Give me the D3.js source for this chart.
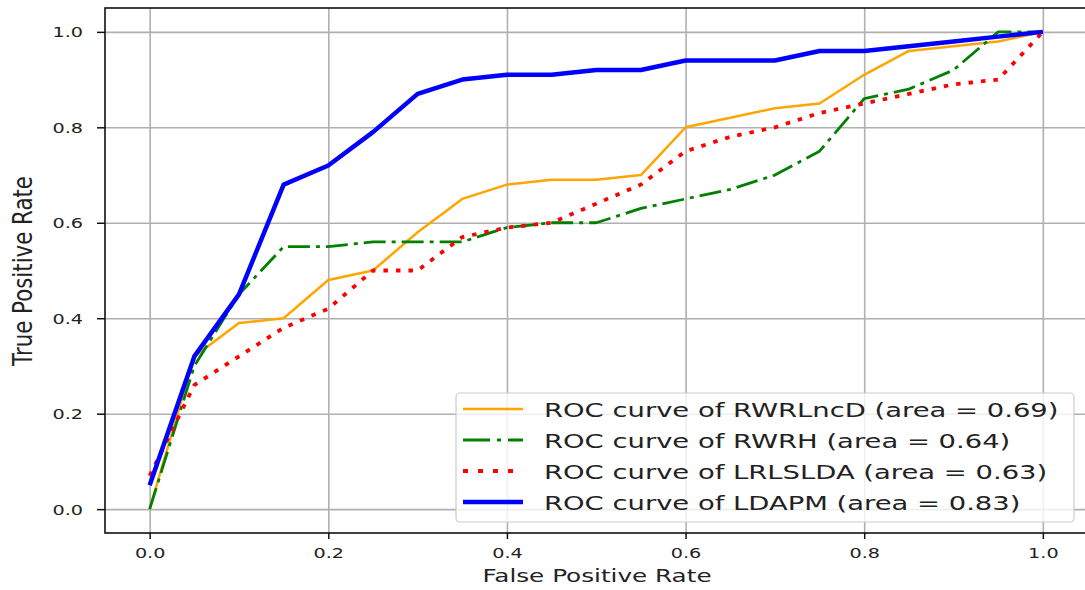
<!DOCTYPE html>
<html>
<head>
<meta charset="utf-8">
<script src="https://cdn.jsdelivr.net/npm/d3@7"></script>
<style>
  body { margin: 0; background: #fff; }
  svg { display: block; font-family: "DejaVu Sans", sans-serif; }
</style>
</head>
<body>
<svg id="chart" width="1085" height="590"></svg>
<script>
// values
const fpr = [0.00, 0.05, 0.10, 0.15, 0.20, 0.25, 0.30, 0.35, 0.40, 0.45, 0.50,
             0.55, 0.60, 0.65, 0.70, 0.75, 0.80, 0.85, 0.90, 0.95, 1.00];
const tprRWRLncD = [0.00, 0.32, 0.39, 0.40, 0.48, 0.50, 0.58, 0.65, 0.68, 0.69, 0.69,
                    0.70, 0.80, 0.82, 0.84, 0.85, 0.91, 0.96, 0.97, 0.98, 1.00];
const tprRWRH    = [0.00, 0.30, 0.45, 0.55, 0.55, 0.56, 0.56, 0.56, 0.59, 0.60, 0.60,
                    0.63, 0.65, 0.67, 0.70, 0.75, 0.86, 0.88, 0.92, 1.00, 1.00];
const tprLRLSLDA = [0.07, 0.26, 0.32, 0.38, 0.42, 0.50, 0.50, 0.57, 0.59, 0.60, 0.64,
                    0.68, 0.75, 0.78, 0.80, 0.83, 0.85, 0.87, 0.89, 0.90, 1.00];
const tprLDAPM   = [0.05, 0.32, 0.45, 0.68, 0.72, 0.79, 0.87, 0.90, 0.91, 0.91, 0.92,
                    0.92, 0.94, 0.94, 0.94, 0.96, 0.96, 0.97, 0.98, 0.99, 1.00];
const methods = ['RWRLncD', 'RWRH', 'LRLSLDA', 'LDAPM'];
const areas = ['0.69', '0.64', '0.63', '0.83'];
const tickValues = [0.0, 0.2, 0.4, 0.6, 0.8, 1.0];

// styles
const styles = [
  { color: 'orange', width: 2.5, dash: null },
  { color: 'green',  width: 2.8, dash: '22,6,4,6' },
  { color: 'red',    width: 3.8, dash: '4.5,8' },
  { color: 'blue',   width: 4.5, dash: null }
];
const series = [tprRWRLncD, tprRWRH, tprLRLSLDA, tprLDAPM];

const k = 1.37; // the picture is stretched sideways, text too

// widen text in place through textLength
const stretch = sel => {
  sel.each(function() {
    const len = this.getComputedTextLength();
    d3.select(this)
      .attr('textLength', len * k)
      .attr('lengthAdjust', 'spacingAndGlyphs');
  });
};

const svg = d3.select('#chart');
const width = +svg.attr('width');
const height = +svg.attr('height');
const margin = { top: 8, right: -2.5, bottom: 57, left: 105 };
const innerWidth = width - margin.left - margin.right;
const innerHeight = height - margin.top - margin.bottom;

const xScale = d3.scaleLinear()
  .domain([-0.05, 1.05])
  .range([margin.left, width - margin.right]);
const yScale = d3.scaleLinear()
  .domain([-0.05, 1.05])
  .range([height - margin.bottom, margin.top]);

// grid
const gridConfig = g => {
  g.selectAll('.domain').remove();
  g.selectAll('text').remove();
  g.selectAll('line')
    .attr('stroke', '#b0b0b0')
    .attr('stroke-width', 1.6);
};
svg.append('g')
  .attr('transform', `translate(0, ${height - margin.bottom})`)
  .call(d3.axisBottom(xScale).tickValues(tickValues).tickSize(-innerHeight))
  .call(gridConfig);
svg.append('g')
  .attr('transform', `translate(${margin.left}, 0)`)
  .call(d3.axisLeft(yScale).tickValues(tickValues).tickSize(-innerWidth))
  .call(gridConfig);

// curves
const line = d3.line()
  .x((d, i) => xScale(fpr[i]))
  .y(d => yScale(d));

svg.append('g').selectAll('path')
  .data(series)
  .enter().append('path')
    .attr('d', d => line(d))
    .attr('fill', 'none')
    .attr('stroke', (d, i) => styles[i].color)
    .attr('stroke-width', (d, i) => styles[i].width)
    .attr('stroke-dasharray', (d, i) => styles[i].dash)
    .attr('stroke-linejoin', 'round')
    .attr('stroke-linecap', 'butt');

// frame
svg.append('rect')
  .attr('x', margin.left)
  .attr('y', margin.top)
  .attr('width', innerWidth)
  .attr('height', innerHeight)
  .attr('fill', 'none')
  .attr('stroke', '#111')
  .attr('stroke-width', 1.6);

// axes
const xAxisG = svg.append('g')
  .attr('transform', `translate(0, ${height - margin.bottom})`)
  .call(d3.axisBottom(xScale).tickValues(tickValues).tickSize(6).tickFormat(d3.format('.1f')));
xAxisG.selectAll('.domain').remove();
xAxisG.selectAll('line').attr('stroke', '#111').attr('stroke-width', 1.5);
xAxisG.selectAll('text')
  .attr('y', 25)
  .attr('dy', 0)
  .attr('font-size', 14)
  .attr('font-family', 'DejaVu Sans')
  .attr('fill', '#222')
  .call(stretch);

const yAxisG = svg.append('g')
  .attr('transform', `translate(${margin.left}, 0)`)
  .call(d3.axisLeft(yScale).tickValues(tickValues).tickSize(8).tickFormat(d3.format('.1f')));
yAxisG.selectAll('.domain').remove();
yAxisG.selectAll('line').attr('stroke', '#111').attr('stroke-width', 1.5);
yAxisG.selectAll('text')
  .attr('x', -22)
  .attr('dy', '0.36em')
  .attr('font-size', 14)
  .attr('font-family', 'DejaVu Sans')
  .attr('fill', '#222')
  .call(stretch);

svg.append('text')
  .attr('x', 597)
  .attr('y', 582)
  .attr('text-anchor', 'middle')
  .attr('font-size', 18)
  .attr('fill', '#222')
  .text('False Positive Rate')
  .call(stretch);

svg.append('text')
  .attr('text-anchor', 'middle')
  .attr('font-size', 26)
  .attr('fill', '#222')
  .attr('transform', 'translate(32, 271) rotate(-90)')
  .attr('textLength', 190)
  .attr('lengthAdjust', 'spacingAndGlyphs')
  .text('True Positive Rate');

// legend
const legend = svg.append('g');
legend.append('rect')
  .attr('x', 456)
  .attr('y', 393)
  .attr('width', 618)
  .attr('height', 129)
  .attr('rx', 4)
  .attr('fill', 'white')
  .attr('fill-opacity', 0.8)
  .attr('stroke', '#cccccc')
  .attr('stroke-width', 1.2);

const rowY = d3.scaleLinear().domain([0, 3]).range([409, 502]);
const items = legend.selectAll('.item')
  .data(methods)
  .enter().append('g')
    .attr('class', 'item')
    .attr('transform', (d, i) => `translate(0, ${rowY(i)})`);
items.append('line')
  .attr('x1', 463)
  .attr('x2', 523)
  .attr('stroke', (d, i) => styles[i].color)
  .attr('stroke-width', (d, i) => styles[i].width)
  .attr('stroke-dasharray', (d, i) => styles[i].dash === null ? null
    : (i === 1 ? '27,7,4,7' : '5,10'));
items.append('text')
  .attr('x', 544)
  .attr('y', 7.5)
  .attr('font-size', 20)
  .attr('fill', '#222')
  .text((d, i) => `ROC curve of ${d} (area = ${areas[i]})`)
  .call(stretch);
</script>
</body>
</html>
